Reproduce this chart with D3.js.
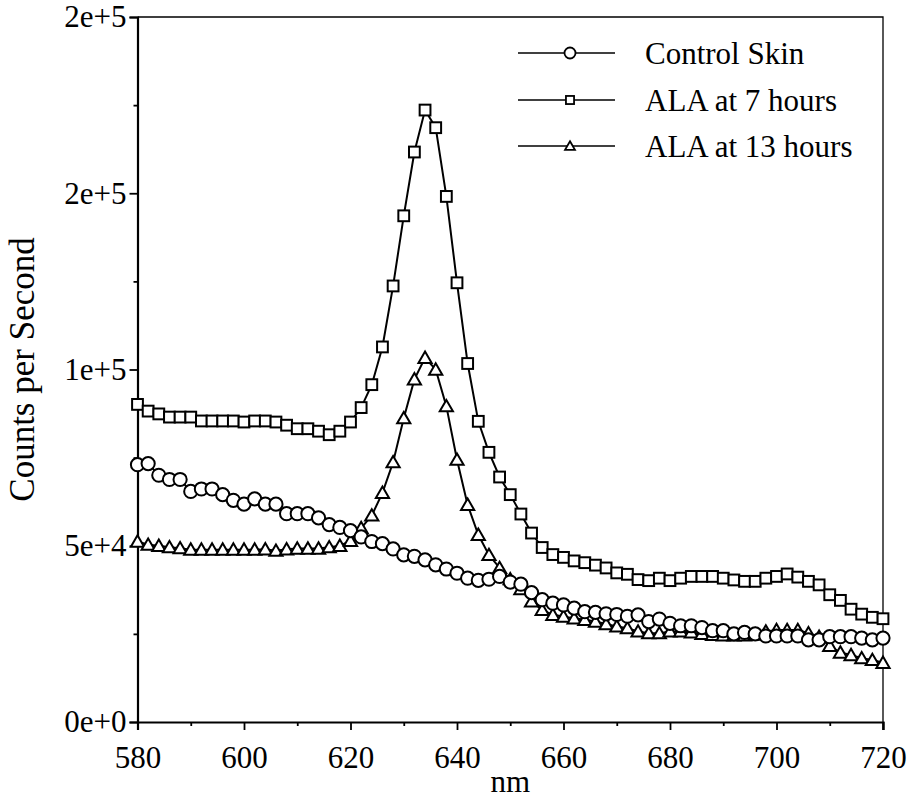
<!DOCTYPE html>
<html>
<head>
<meta charset="utf-8">
<script src="https://cdn.jsdelivr.net/npm/d3@7"></script>
<style>
  body { margin: 0; background: #fff; }
  svg { display: block; }
</style>
</head>
<body>
<div id="chart"></div>
<script>
const width = 912;
const height = 801;

// wavelength (nm), one reading every 2 nm
const wavelengths = d3.range(580, 721, 2);

// counts per second, in thousands
const controlSkin = [
  73.0, 73.3, 70.0, 68.8, 68.8, 65.4, 66.1, 66.1, 64.5, 62.9,
  61.8, 63.3, 61.8, 61.8, 59.1, 59.1, 59.1, 57.9, 56.0, 55.2,
  54.3, 52.5, 51.2, 50.6, 49.1, 47.4, 47.0, 46.0, 44.6, 43.4,
  42.2, 40.8, 40.2, 40.5, 41.3, 39.7, 39.1, 36.7, 34.7, 33.7,
  33.2, 32.3, 31.3, 31.1, 30.7, 30.5, 30.0, 30.4, 28.5, 29.2,
  28.0, 27.3, 27.3, 26.8, 25.9, 25.9, 25.0, 25.4, 25.0, 24.4,
  24.4, 24.4, 24.4, 23.3, 23.3, 24.2, 24.2, 24.2, 23.8, 23.3,
  23.8
];
const ala7h = [
  90.1, 88.2, 87.4, 86.5, 86.5, 86.5, 85.4, 85.4, 85.4, 85.4,
  85.1, 85.4, 85.4, 85.1, 84.2, 83.2, 83.2, 82.5, 81.5, 82.5,
  85.1, 89.2, 95.7, 106.4, 123.7, 143.6, 161.7, 173.6, 168.6, 149.1,
  124.6, 101.7, 85.3, 76.5, 69.5, 64.5, 59.0, 53.6, 49.5, 47.5,
  46.7, 45.7, 45.2, 44.5, 43.7, 42.3, 41.9, 40.4, 40.1, 40.8,
  40.1, 40.8, 41.3, 41.3, 41.3, 40.8, 40.3, 39.9, 39.9, 40.8,
  41.3, 42.0, 41.1, 39.9, 38.9, 36.1, 34.5, 32.0, 30.6, 29.7,
  29.3
];
const ala13h = [
  51.2, 50.3, 50.0, 49.6, 49.3, 48.9, 48.9, 48.9, 48.9, 48.9,
  48.9, 48.9, 49.0, 48.6, 49.0, 49.2, 49.2, 49.2, 49.6, 50.0,
  51.4, 55.0, 58.6, 65.0, 73.7, 86.2, 97.2, 103.3, 100.0, 89.6,
  74.4, 61.6, 53.1, 47.4, 43.7, 40.5, 37.7, 34.2, 31.8, 30.4,
  29.9, 29.4, 29.0, 28.5, 27.8, 27.1, 26.6, 25.7, 25.2, 25.2,
  25.7, 25.7, 25.4, 25.0, 24.7, 24.6, 24.6, 24.6, 24.8, 25.7,
  26.1, 26.1, 26.1, 25.2, 24.2, 21.6, 19.7, 19.0, 18.1, 17.6,
  16.8
];

const seriesNames = ["Control Skin", "ALA at 7 hours", "ALA at 13 hours"];
const seriesMarkers = ["circle", "square", "triangle"];

const xTickValues = [580, 600, 620, 640, 660, 680, 700, 720];
const xMinorTicks = [590, 610, 630, 650, 670, 690, 710];
const yTickValues = [0, 50000, 100000, 150000, 200000];
const yTickLabels = ["0e+0", "5e+4", "1e+5", "2e+5", "2e+5"];
const yMinorTicks = [25000, 75000, 125000, 175000];

const font = "'Liberation Serif', 'Times New Roman', serif";

const svg = d3.select("#chart")
    .append("svg")
    .attr("width", width)
    .attr("height", height)
    .style("background", "white");

const x = d3.scaleLinear().domain([580, 720]).range([137.5, 883]);
const y = d3.scaleLinear().domain([0, 200000]).range([722, 17]);

// frame: top and right edges
svg.append("path")
    .attr("d", `M${x(580)},${y(200000)}H${x(720)}V${y(0) + 8}`)
    .attr("fill", "none")
    .attr("stroke", "#000")
    .attr("stroke-width", 1.3);

svg.append("g")
    .attr("transform", `translate(0,${y(0)})`)
    .call(d3.axisBottom(x).tickValues(xTickValues).tickSize(8).tickPadding(16).tickFormat(d3.format("d")));
svg.append("g")
    .attr("transform", `translate(0,${y(0)})`)
    .call(d3.axisBottom(x).tickValues(xMinorTicks).tickSize(4).tickFormat(""))
    .select(".domain").remove();

svg.append("g")
    .attr("transform", `translate(${x(580)},0)`)
    .call(d3.axisLeft(y).tickValues(yTickValues).tickSize(8).tickPadding(3)
        .tickFormat((d, i) => yTickLabels[i]));
svg.append("g")
    .attr("transform", `translate(${x(580)},0)`)
    .call(d3.axisLeft(y).tickValues(yMinorTicks).tickSize(4).tickFormat(""))
    .select(".domain").remove();

svg.selectAll(".domain").attr("stroke", "#000").attr("stroke-width", 2.2);
svg.selectAll(".tick line").attr("stroke", "#000").attr("stroke-width", 1.8);
svg.selectAll(".tick text")
    .attr("fill", "#000")
    .attr("font-family", font)
    .attr("font-size", "31px");

svg.append("text")
    .attr("x", (x(580) + x(720)) / 2)
    .attr("y", 792)
    .attr("text-anchor", "middle")
    .attr("font-family", font)
    .attr("font-size", "31px")
    .text("nm");

svg.append("text")
    .attr("transform", `translate(34,${y(100000)}) rotate(-90)`)
    .attr("text-anchor", "middle")
    .attr("font-family", font)
    .attr("font-size", "35px")
    .text("Counts per Second");

function drawMarker(g, kind, cx, cy, s) {
  if (kind === "circle") {
    g.append("circle").attr("cx", cx).attr("cy", cy).attr("r", s * 0.55);
  } else if (kind === "square") {
    g.append("rect").attr("x", cx - s * 0.45).attr("y", cy - s * 0.45)
        .attr("width", s * 0.9).attr("height", s * 0.9);
  } else {
    const h = s * 0.95;
    g.append("path")
        .attr("d", `M${cx},${cy - h * 0.55}L${cx + s * 0.55},${cy + h * 0.45}L${cx - s * 0.55},${cy + h * 0.45}Z`);
  }
}

const allSeries = [controlSkin, ala7h, ala13h];
const line = d3.line()
    .x((d, i) => x(wavelengths[i]))
    .y(d => y(d * 1000));

// later series sit underneath the control curve
[2, 1, 0].forEach(k => {
  const g = svg.append("g");
  g.append("path")
      .datum(allSeries[k])
      .attr("d", line)
      .attr("fill", "none")
      .attr("stroke", "#000")
      .attr("stroke-width", 2);
  const mg = g.append("g")
      .attr("fill", "#fff")
      .attr("stroke", "#000")
      .attr("stroke-width", 2);
  allSeries[k].forEach((v, i) => drawMarker(mg, seriesMarkers[k], x(wavelengths[i]), y(v * 1000), 12));
});

// legend
const legend = svg.append("g").attr("transform", "translate(518,0)");
const legendRows = [53, 100, 146];
seriesNames.forEach((name, k) => {
  const row = legend.append("g").attr("transform", `translate(0,${legendRows[k]})`);
  row.append("line")
      .attr("x1", 0).attr("x2", 97)
      .attr("stroke", "#000").attr("stroke-width", 1.6);
  const mg = row.append("g").attr("fill", "#fff").attr("stroke", "#000").attr("stroke-width", 1.8);
  drawMarker(mg, seriesMarkers[k], 52, 0, k === 0 ? 10 : 9);
  row.append("text")
      .attr("x", 127)
      .attr("dy", "0.35em")
      .attr("font-family", font)
      .attr("font-size", "31px")
      .text(name);
});
</script>
</body>
</html>
